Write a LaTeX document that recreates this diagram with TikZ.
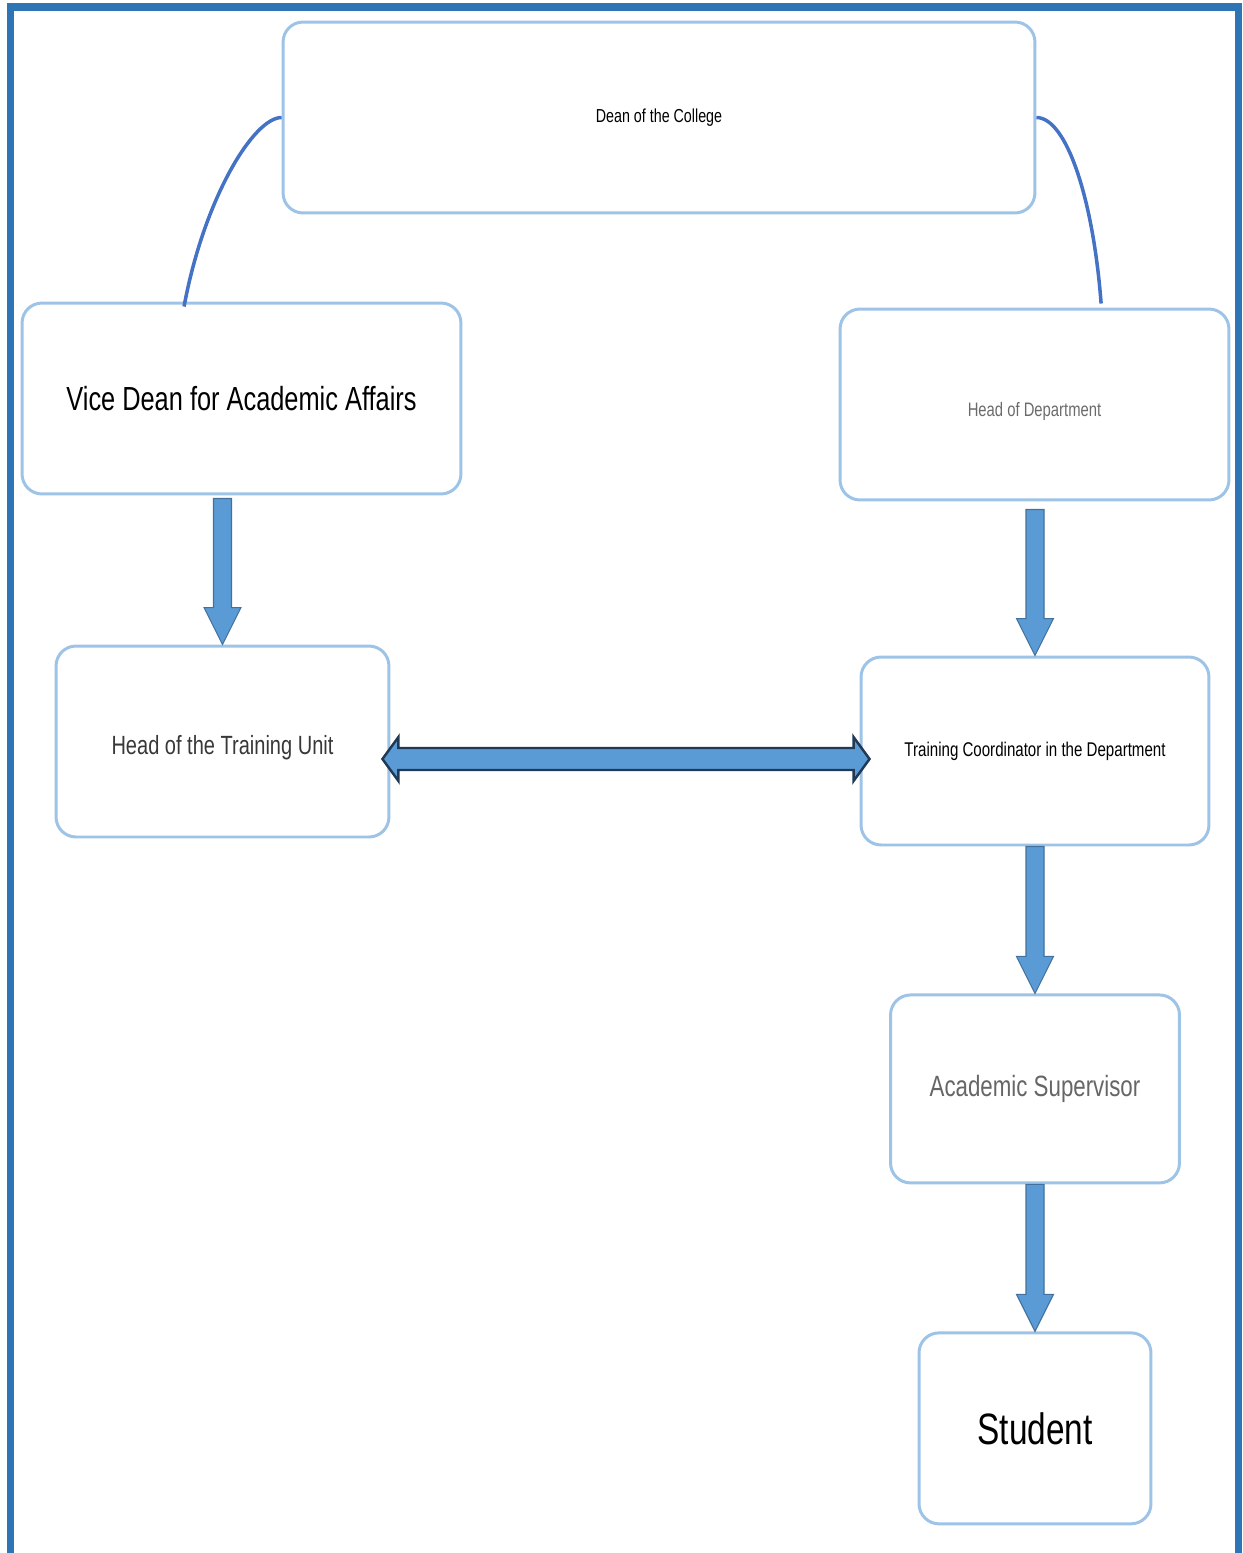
\documentclass[tikz,border=0pt]{standalone}
\usepackage{fontspec}
\setmainfont{Liberation Sans}[FakeStretch=0.76]
\usetikzlibrary{positioning,calc}

\definecolor{framecol}{HTML}{2E75B6}
\definecolor{boxline}{HTML}{9DC3E6}
\definecolor{arrowfill}{HTML}{5B9BD5}
\definecolor{arrowedge}{HTML}{41719C}
\definecolor{darkedge}{HTML}{203A55}
\definecolor{linkcol}{HTML}{4472C4}

% fat arrow pointing down, from #1 to #2
\newcommand{\downblock}[2]{%
  \filldraw[blockarrow] let \p1=(#1), \p2=(#2) in
    (\x2-0.18cm,\y1) -- (\x2+0.18cm,\y1) -- (\x2+0.18cm,\y2+0.74cm)
    -- (\x2+0.37cm,\y2+0.74cm) -- (\x2,\y2) -- (\x2-0.37cm,\y2+0.74cm)
    -- (\x2-0.18cm,\y2+0.74cm) -- cycle;}

\begin{document}
\begin{tikzpicture}[
        x=0.02cm, y=-0.02cm,
        box/.style={ draw=boxline, line width=1.7pt, rounded corners=0.4cm, align=center },
        blockarrow/.style={ fill=arrowfill, draw=arrowedge, line width=0.6pt },
        bothway/.style={ fill=arrowfill, draw=darkedge, line width=1.4pt },
        link/.style={ draw=linkcol, line width=2pt }
    ]
    \useasboundingbox (0,0) rectangle (1242,1553);

    % outer frame
    \draw[framecol, line width=0.15cm] (10.5,1553) -- (10.5,7) -- (1238.5,7) -- (1238.5,1553);

    \node[box, minimum width=15.04cm, minimum height=3.82cm] (dean) at (659,117.5)
        {\fontsize{10.7}{13}\selectfont Dean of the College};
    \node[box, minimum width=8.78cm, minimum height=3.82cm] (vice) at (241.5,398.5)
        {\fontsize{19}{22}\selectfont Vice Dean for Academic Affairs};
    \node[box, minimum width=7.78cm, minimum height=3.82cm, text height=16pt] (hod) at (1034.5,404.5)
        {\fontsize{11.1}{13}\selectfont\color{black!58} Head of Department};
    \node[box, minimum width=6.66cm, minimum height=3.82cm, text height=17.8pt] (htu) at (222.5,741.5)
        {\fontsize{15}{18}\selectfont\color{black!78} Head of the Training Unit};
    \node[box, minimum width=6.96cm, minimum height=3.76cm] (tc) at (1035,751)
        {\fontsize{11.3}{13}\selectfont Training Coordinator in the Department};
    \node[box, minimum width=5.78cm, minimum height=3.76cm, below=2.94cm of tc] (sup)
        {\fontsize{16.7}{20}\selectfont\color{black!60} Academic Supervisor};
    \node[box, minimum width=4.64cm, minimum height=3.82cm, below=2.94cm of sup] (stu)
        {\fontsize{25}{30}\selectfont Student};

    % links from the dean
    \draw[link] (dean.west) .. controls +(-28,0) and +(20,-108) ..
        ($(vice.north west)!0.37!(vice.north east)+(0,5)$);
    \draw[link] (dean.east) .. controls +(30,0) and +(-8,-105) ..
        ($(hod.north west)!0.67!(hod.north east)+(0,-4)$);

    % fat arrows
    \downblock{$(vice.south)+(0,3)$}{htu.north}
    \downblock{$(hod.south)+(0,8)$}{tc.north}
    \downblock{tc.south}{sup.north}
    \downblock{sup.south}{stu.north}

    \filldraw[bothway] let \p1=(htu.east), \p2=(tc.west) in
        (\x1-0.16cm,\y2-0.16cm) -- (\x1+0.16cm,\y2+0.28cm) -- (\x1+0.16cm,\y2+0.06cm)
        -- (\x2-0.12cm,\y2+0.06cm) -- (\x2-0.12cm,\y2+0.28cm) -- (\x2+0.2cm,\y2-0.16cm)
        -- (\x2-0.12cm,\y2-0.6cm) -- (\x2-0.12cm,\y2-0.38cm) -- (\x1+0.16cm,\y2-0.38cm)
        -- (\x1+0.16cm,\y2-0.6cm) -- cycle;
\end{tikzpicture}
\end{document}
